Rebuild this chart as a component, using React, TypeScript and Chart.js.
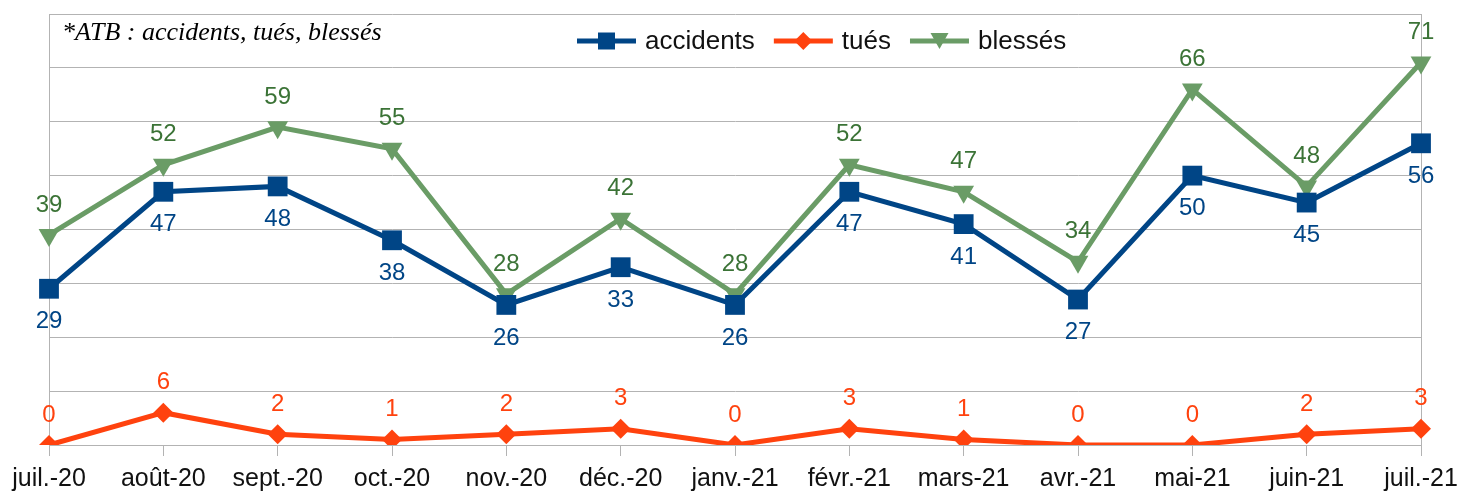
import React, { useEffect, useRef } from "react";
import { Chart, registerables } from "chart.js";

Chart.register(...registerables);

const categories = [
  "juil.-20", "août-20", "sept.-20", "oct.-20", "nov.-20", "déc.-20", "janv.-21",
  "févr.-21", "mars-21", "avr.-21", "mai-21", "juin-21", "juil.-21",
];
const accidents = [29, 47, 48, 38, 26, 33, 26, 47, 41, 27, 50, 45, 56];
const tues = [0, 6, 2, 1, 2, 3, 0, 3, 1, 0, 0, 2, 3];
const blesses = [39, 52, 59, 55, 28, 42, 28, 52, 47, 34, 66, 48, 71];
const seriesNames = ["accidents", "tués", "blessés"];
const titleText = "*ATB : accidents, tués, blessés";

const BLUE = "#004586";
const ORANGE = "#ff420e";
const GREEN = "#6a9c66";
const GREEN_LABEL = "#3b7336";
const GRID = "#b3b3b3";
const FONT = "'Liberation Sans', Arial, sans-serif";

const labelColors = [BLUE, ORANGE, GREEN_LABEL];
const labelOffsets = [33, -30, -30];

const overlayPlugin = {
  id: "overlay",
  afterDatasetsDraw(chart: any) {
    const ctx = chart.ctx;
    ctx.save();
    ctx.font = `24px ${FONT}`;
    ctx.textAlign = "center";
    ctx.textBaseline = "middle";
    chart.data.datasets.forEach((ds: any, di: number) => {
      const meta = chart.getDatasetMeta(di);
      ctx.fillStyle = labelColors[di];
      meta.data.forEach((pt: any, i: number) => {
        ctx.fillText(String(ds.data[i]), pt.x, pt.y + labelOffsets[di]);
      });
    });
    ctx.restore();
  },
  afterDraw(chart: any) {
    const ctx = chart.ctx;
    const area = chart.chartArea;
    ctx.save();
    // title
    ctx.font = `italic 26px 'Liberation Serif', 'Times New Roman', serif`;
    ctx.fillStyle = "#000";
    ctx.textAlign = "left";
    ctx.textBaseline = "alphabetic";
    ctx.fillText(titleText, area.left + 13, area.top + 26);
    // legend
    ctx.font = `26px ${FONT}`;
    ctx.textBaseline = "middle";
    const ly = area.top + 27;
    const lineW = 59;
    const gap = 9;
    const itemGap = 19;
    let x = 577;
    chart.data.datasets.forEach((ds: any, di: number) => {
      ctx.strokeStyle = ds.borderColor;
      ctx.lineWidth = 5;
      ctx.beginPath();
      ctx.moveTo(x, ly);
      ctx.lineTo(x + lineW, ly);
      ctx.stroke();
      ctx.fillStyle = ds.borderColor;
      const cx = x + lineW / 2;
      ctx.beginPath();
      if (di === 0) {
        ctx.rect(cx - 8.5, ly - 8.5, 17, 17);
      } else if (di === 1) {
        ctx.moveTo(cx, ly - 9);
        ctx.lineTo(cx + 9, ly);
        ctx.lineTo(cx, ly + 9);
        ctx.lineTo(cx - 9, ly);
        ctx.closePath();
      } else {
        ctx.moveTo(cx - 9, ly - 8);
        ctx.lineTo(cx + 9, ly - 8);
        ctx.lineTo(cx, ly + 8);
        ctx.closePath();
      }
      ctx.fill();
      ctx.fillStyle = "#111";
      ctx.fillText(seriesNames[di], x + lineW + gap, ly + 1);
      x += lineW + gap + ctx.measureText(seriesNames[di]).width + itemGap;
    });
    ctx.restore();
  },
};

export default function App() {
  const ref = useRef<HTMLCanvasElement | null>(null);
  useEffect(() => {
    document.body.style.margin = "0";
    const last = categories.length - 1;
    const chart = new Chart(ref.current as HTMLCanvasElement, {
      type: "line",
      data: {
        labels: categories,
        datasets: [
          {
            label: seriesNames[0],
            data: accidents,
            borderColor: BLUE,
            backgroundColor: BLUE,
            borderWidth: 5,
            pointStyle: "rect",
            pointRadius: 14,
            pointBorderWidth: 0,
            tension: 0,
          },
          {
            label: seriesNames[1],
            data: tues,
            borderColor: ORANGE,
            backgroundColor: ORANGE,
            borderWidth: 5,
            pointStyle: "rectRot",
            pointRadius: 10,
            pointBorderWidth: 0,
            tension: 0,
          },
          {
            label: seriesNames[2],
            data: blesses,
            borderColor: GREEN,
            backgroundColor: GREEN,
            borderWidth: 5,
            pointStyle: "triangle",
            pointRotation: 180,
            pointRadius: 12,
            pointBorderWidth: 0,
            tension: 0,
          },
        ],
      },
      options: {
        animation: false,
        responsive: false,
        maintainAspectRatio: false,
        layout: { padding: { left: 49, right: 39, top: 14, bottom: 1 } },
        plugins: {
          legend: { display: false },
          tooltip: { enabled: false },
          title: { display: false },
        },
        scales: {
          x: {
            offset: false,
            afterFit: (scale: any) => {
              scale.height = 47;
              scale.paddingLeft = 0;
              scale.paddingRight = 0;
            },
            grid: {
              color: (c: any) => (c.index === 0 || c.index === last ? GRID : "rgba(0,0,0,0)"),
              tickColor: GRID,
              tickLength: 11,
              lineWidth: 1,
            },
            border: { display: true, color: GRID },
            ticks: {
              color: "#111",
              font: { family: FONT, size: 25, lineHeight: 1 },
              padding: 11,
              maxRotation: 0,
              autoSkip: false,
            },
          },
          y: {
            min: 0,
            max: 80,
            ticks: { display: false, stepSize: 10 },
            grid: { color: GRID, drawTicks: false, lineWidth: 1 },
            border: { display: true, color: GRID },
          },
        },
      },
      plugins: [overlayPlugin],
    });
    return () => chart.destroy();
  }, []);
  return <canvas ref={ref} width={1460} height={493} style={{ display: "block" }} />;
}
